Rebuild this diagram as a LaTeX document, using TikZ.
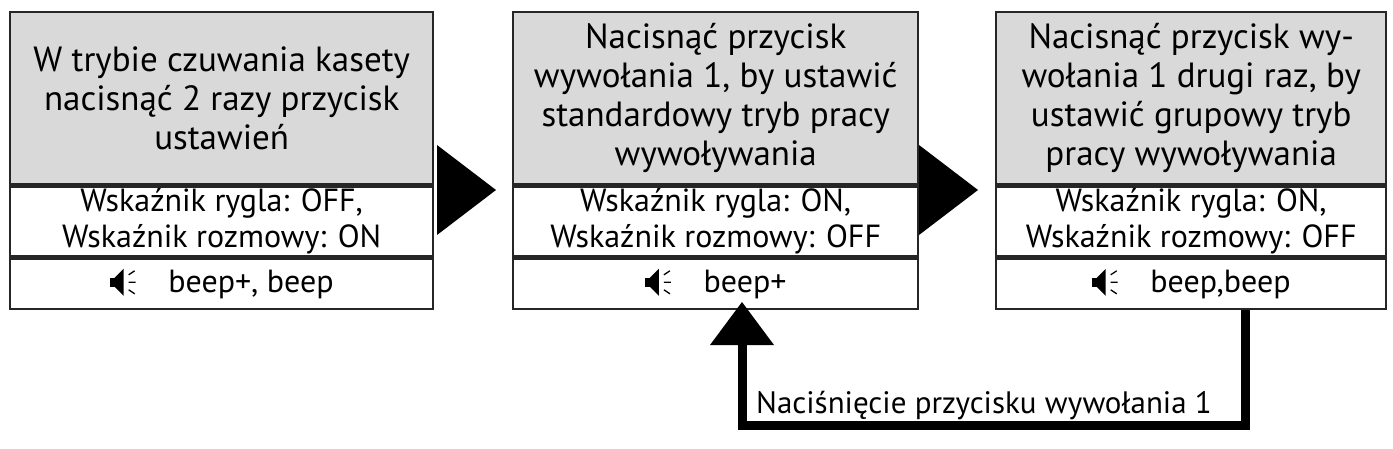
\documentclass[tikz,border=0pt]{standalone}
\usepackage{fontspec}
\setmainfont{PT Sans}
\usetikzlibrary{positioning}
\newcommand{\spk}{\tikz[x=1pt,y=1pt,baseline=-2pt]{%
	\fill (0,4) rectangle (5,13);
	\fill (5,4) -- (5,13) -- (14,22) -- (14,-5) -- cycle;
	\draw[line width=1.3pt] (19,16) -- (25,20) (19,8.5) -- (26,8.5) (19,1) -- (25,-3);}}

\begin{document}
\begin{tikzpicture}[x=1pt,y=-1pt,
	cell/.style={draw=black!85,line width=2.4pt,minimum width=423pt,align=center,font=\fontsize{35}{39}\selectfont,inner sep=0pt},
	head/.style={cell,fill=black!15,minimum height=172pt},
	info/.style={cell,minimum height=70pt,font=\fontsize{32}{36}\selectfont},
	snd/.style={cell,minimum height=50pt,font=\fontsize{32}{36}\selectfont},
	tri/.style={fill=black}]
	\useasboundingbox (0,0) rectangle (1393,448);
	% first step
	\node[head,anchor=north west] (h1) at (9,11) {W trybie czuwania kasety\\nacisnąć 2 razy przycisk\\ustawień};
	\node[info,below=0pt of h1] (i1) {Wskaźnik rygla: OFF,\\Wskaźnik rozmowy: ON};
	\node[snd,below=0pt of i1] (s1) {\spk\quad beep+, beep};
	% second step
	\node[head,anchor=north west,minimum width=405pt] (h2) at (512,11) {Nacisnąć przycisk\\wywołania 1, by ustawić\\standardowy tryb pracy\\wywoływania};
	\node[info,below=0pt of h2,minimum width=405pt] (i2) {Wskaźnik rygla: ON,\\Wskaźnik rozmowy: OFF};
	\node[snd,below=0pt of i2,minimum width=405pt] (s2) {\spk\quad beep+};
	% third step
	\node[head,anchor=north west,minimum width=390pt] (h3) at (995,11) {Nacisnąć przycisk wy-\\wołania 1 drugi raz, by\\ustawić grupowy tryb\\pracy wywoływania};
	\node[info,below=0pt of h3,minimum width=390pt] (i3) {Wskaźnik rygla: ON,\\Wskaźnik rozmowy: OFF};
	\node[snd,below=0pt of i3,minimum width=390pt] (s3) {\spk\quad beep,beep};
	% arrows between steps
	\fill[tri] (437,145) -- (496,190) -- (437,235) -- cycle;
	\fill[tri] (919,145) -- (978,190) -- (919,235) -- cycle;
	% feedback loop
	\coordinate (c1) at (s3.south -| 1245,0);
	\draw[line width=9pt] (c1) -- (1245,425) coordinate (c2) -- (c2 -| 742,0) coordinate (c3) -- (c3 |- 0,345);
	\fill[tri] (710,345) -- (742,302) -- (774,345) -- cycle;
	\node[inner sep=0pt,font=\fontsize{31}{34}\selectfont,anchor=base west] (lbl) at (756,413) {Naciśnięcie przycisku wywołania 1};
\end{tikzpicture}
\end{document}
